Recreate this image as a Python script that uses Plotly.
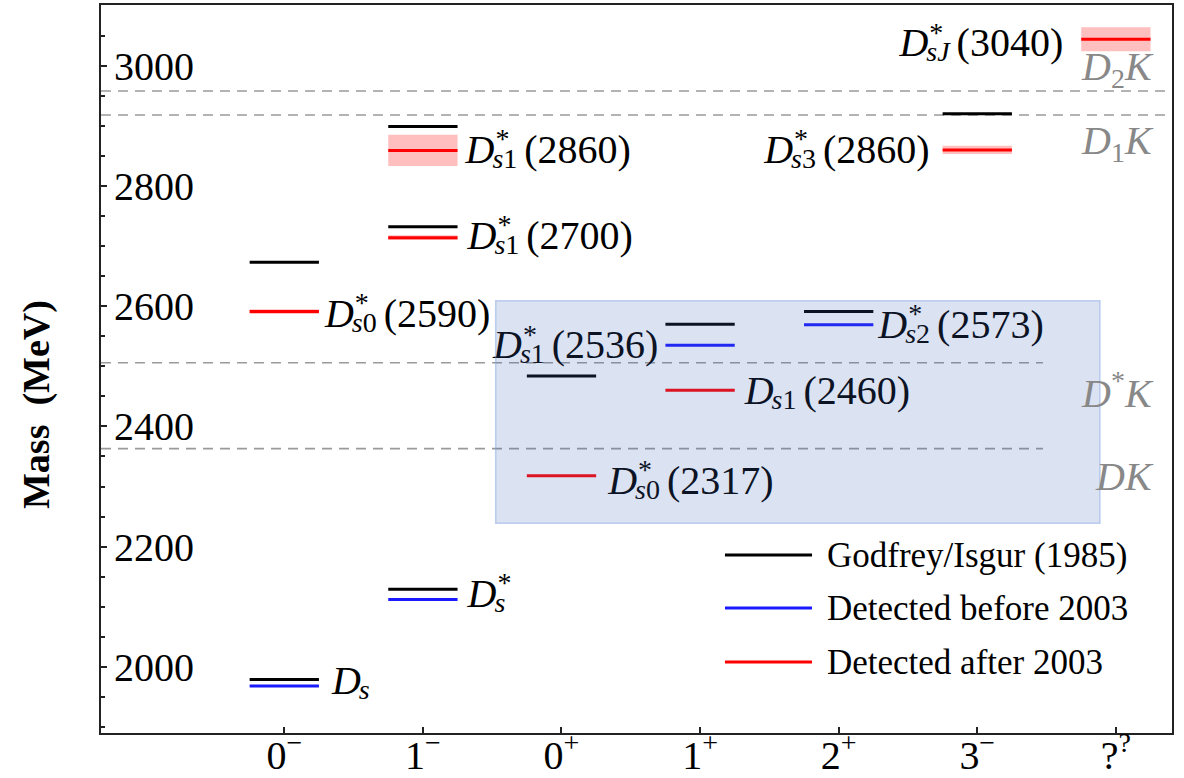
import plotly.graph_objects as go

# ---------------------------------------------------------------- data
CATEGORIES = ["0<sup>−</sup>", "1<sup>−</sup>", "0<sup>+</sup>", "1<sup>+</sup>",
              "2<sup>+</sup>", "3<sup>−</sup>", "?<sup>?</sup>"]

SERIES_NAMES = ["Godfrey/Isgur (1985)", "Detected before 2003", "Detected after 2003"]
SERIES_COLORS = ["#000000", "#1a1aff", "#ff0000"]

# Godfrey-Isgur quark-model predictions (category index, mass in MeV)
GI_CAT = [0, 0, 1, 1, 1, 2, 3, 4, 5]
GI_MASS = [1979, 2673, 2129, 2732, 2899, 2484, 2570, 2591, 2920]

# states observed before 2003
BEFORE_CAT = [0, 1, 3, 4]
BEFORE_MASS = [1968, 2112, 2535, 2569]

# states observed after 2003, with mass uncertainty
AFTER_CAT = [0, 1, 1, 2, 3, 5, 6]
AFTER_MASS = [2591, 2714, 2859, 2318, 2460, 2860, 3044]
AFTER_ERR = [4, 4, 26, 0, 0, 7, 20]

# two-meson thresholds
THRESH_NAMES = ["<i>D</i><sub>2</sub><i>K</i>", "<i>D</i><sub>1</sub><i>K</i>",
                "<i>D</i><sup>*</sup><i>K</i>", "<i>DK</i>"]
THRESH_MASS = [2958, 2918, 2506, 2363]
THRESH_FULL = [True, True, False, False]
THRESH_SHIFT = [22, -28, -28, -28]

# state names
LABEL_CAT = [0, 1, 0, 1, 1, 2, 3, 3, 4, 5, 6]
LABEL_MASS = [1968, 2112, 2591, 2714, 2859, 2318, 2535, 2460, 2569, 2860, 3044]
LABEL_STAR = [False, True, True, True, True, True, True, False, True, True, True]
LABEL_SUB = ["s", "s", "s0", "s1", "s1", "s0", "s1", "s1", "s2", "s3", "sJ"]
LABEL_TAIL = ["", "", "(2590)", "(2700)", "(2860)", "(2317)", "(2536)", "(2460)",
              "(2573)", "(2860)", "(3040)"]
LABEL_SIDE = ["R", "R", "R", "R", "R", "R", "L", "R", "R", "L", "L"]
LABEL_GAP = [13, 10, 6, 10, 8, 12, 7, 10, 5, 13, 18]
LABEL_DY = [-5, -6, 2, -2, -1, 5, 0, 0, 0, 0, 4]

HIGHLIGHT_X = (1.525, 5.885)
HIGHLIGHT_Y = (2239, 2609)

# ---------------------------------------------------------------- geometry
W, H = 1184, 778
M_L, M_R, M_T, M_B = 101, 12, 5, 45
X_RANGE = (-1.3225, 6.405)
Y_RANGE = (1890, 3101)
PLOT_W = W - M_L - M_R
PLOT_H = H - M_T - M_B
PX_X = PLOT_W / (X_RANGE[1] - X_RANGE[0])   # pixels per category unit
PX_Y = PLOT_H / (Y_RANGE[1] - Y_RANGE[0])   # pixels per MeV
HALF = 0.25                                  # half-width of a level bar
THRESH_SHORT_END = 5.474

FONT = "Liberation Serif"
FS_MAIN = 40
FS_SMALL = 28

fig = go.Figure()

# threshold dashed lines
for m, full in zip(THRESH_MASS, THRESH_FULL):
    x_end = X_RANGE[1] if full else THRESH_SHORT_END
    fig.add_trace(go.Scatter(
        x=[X_RANGE[0], x_end], y=[m, m], mode="lines",
        line=dict(color="#9a9a9a", width=1.6, dash="10px,7px"),
        hoverinfo="skip", showlegend=False))

# uncertainty bands of the recent states
for c, m, e in zip(AFTER_CAT, AFTER_MASS, AFTER_ERR):
    if e <= 0:
        continue
    fig.add_trace(go.Scatter(
        x=[c - HALF, c + HALF, c + HALF, c - HALF, c - HALF],
        y=[m - e, m - e, m + e, m + e, m - e],
        mode="lines", fill="toself", fillcolor="rgba(255,0,0,0.25)",
        line=dict(width=0), hoverinfo="skip", showlegend=False))


def level_trace(cats, masses, color, name):
    xs, ys = [], []
    for c, m in zip(cats, masses):
        xs += [c - HALF, c + HALF, None]
        ys += [m, m, None]
    return go.Scatter(x=xs, y=ys, mode="lines", name=name,
                      line=dict(color=color, width=3),
                      hoverinfo="skip", showlegend=False)


fig.add_trace(level_trace(GI_CAT, GI_MASS, SERIES_COLORS[0], SERIES_NAMES[0]))
fig.add_trace(level_trace(BEFORE_CAT, BEFORE_MASS, SERIES_COLORS[1], SERIES_NAMES[1]))
fig.add_trace(level_trace(AFTER_CAT, AFTER_MASS, SERIES_COLORS[2], SERIES_NAMES[2]))


# ---------------------------------------------------------------- state names
def text_width(s, fs):
    w = 0.0
    for ch in s:
        if ch.isdigit():
            w += 0.5
        elif ch in "()":
            w += 0.333
        elif ch == "s":
            w += 0.389
        elif ch == "J":
            w += 0.444
        else:
            w += 0.5
    return w * fs


def sub_html(s):
    out = ""
    for ch in s:
        out += ch if ch.isdigit() else "<i>%s</i>" % ch
    return out


W_D = 0.722 * FS_MAIN
pieces = []   # (x_data, y_data, html, size)
for c, m, star, sub, tail, side, gap, dy in zip(
        LABEL_CAT, LABEL_MASS, LABEL_STAR, LABEL_SUB, LABEL_TAIL,
        LABEL_SIDE, LABEL_GAP, LABEL_DY):
    w_sub = text_width(sub, FS_SMALL)
    w_star = 0.5 * FS_SMALL if star else 0
    x_sub = W_D - 2
    x_tail = x_sub + w_sub + 7
    total = (x_tail + text_width(tail, FS_MAIN)) if tail else x_sub + max(w_sub, w_star + 3)
    line_px_x = (c - X_RANGE[0]) * PX_X
    if side == "R":
        x0 = line_px_x + HALF * PX_X + gap
    else:
        x0 = line_px_x - HALF * PX_X - gap - total
    yc = (Y_RANGE[1] - m) * PX_Y + dy          # pixel row of the letter centre

    def to_data(px, py):
        return X_RANGE[0] + px / PX_X, Y_RANGE[1] - py / PX_Y

    pieces.append(to_data(x0, yc + 3.2) + ("<i>D</i>", FS_MAIN))
    if star:
        pieces.append(to_data(x0 + W_D + 1, yc - 8.5) + ("*", FS_SMALL))
    pieces.append(to_data(x0 + x_sub, yc + 11.2) + (sub_html(sub), FS_SMALL))
    if tail:
        pieces.append(to_data(x0 + x_tail, yc + 3.2) + (tail, FS_MAIN))

fig.add_trace(go.Scatter(
    x=[p[0] for p in pieces], y=[p[1] for p in pieces],
    text=[p[2] for p in pieces], mode="text", textposition="middle right",
    textfont=dict(family=FONT, size=[p[3] for p in pieces], color="#000000"),
    hoverinfo="skip", showlegend=False))

# ---------------------------------------------------------------- shapes / annotations
shapes = [dict(type="rect", xref="x", yref="y", layer="above",
               x0=HIGHLIGHT_X[0], x1=HIGHLIGHT_X[1],
               y0=HIGHLIGHT_Y[0], y1=HIGHLIGHT_Y[1],
               fillcolor="rgba(66,103,186,0.19)",
               line=dict(color="rgba(120,160,225,0.45)", width=1.5))]

annotations = []
for name, m, shift in zip(THRESH_NAMES, THRESH_MASS, THRESH_SHIFT):
    annotations.append(dict(
        text=name, xref="paper", yref="y", x=0.985, y=m, yshift=shift,
        xanchor="right", yanchor="middle", showarrow=False,
        font=dict(family=FONT, size=FS_MAIN, color="#888888")))

# legend drawn by hand so that the sample lines are long
LEG_Y = [0.2445, 0.1717, 0.0975]
for name, color, ly in zip(SERIES_NAMES, SERIES_COLORS, LEG_Y):
    shapes.append(dict(type="line", xref="paper", yref="paper",
                       x0=0.5826, x1=0.6639, y0=ly, y1=ly,
                       line=dict(color=color, width=3)))
    annotations.append(dict(
        text=name, xref="paper", yref="paper", x=0.676, y=ly,
        xanchor="left", yanchor="middle", showarrow=False,
        font=dict(family=FONT, size=35, color="#000000")))

annotations.append(dict(
    text="<b>Mass  (MeV)</b>", xref="paper", yref="paper",
    x=(36 - M_L) / PLOT_W, y=(H - M_B - 405) / PLOT_H,
    xanchor="center", yanchor="middle", textangle=-90, showarrow=False,
    font=dict(family=FONT, size=38, color="#000000")))

fig.update_layout(
    width=W, height=H, autosize=False,
    margin=dict(l=M_L, r=M_R, t=M_T, b=M_B, pad=0, autoexpand=False),
    paper_bgcolor="white", plot_bgcolor="white",
    shapes=shapes, annotations=annotations, showlegend=False,
    font=dict(family=FONT, color="#000000"),
)

fig.update_xaxes(
    range=list(X_RANGE), tickmode="array", tickvals=list(range(len(CATEGORIES))),
    ticktext=CATEGORIES, ticks="inside", ticklen=6, tickwidth=1.5, tickcolor="#222",
    ticklabelstandoff=-14,
    showline=True, mirror=True, linecolor="#222", linewidth=2,
    showgrid=False, zeroline=False, automargin=False,
    tickfont=dict(family=FONT, size=FS_MAIN, color="#000000"))

fig.update_yaxes(
    range=list(Y_RANGE), tickmode="array", tickvals=[2000, 2200, 2400, 2600, 2800, 3000],
    ticks="inside", ticklen=6, tickwidth=1.5, tickcolor="#222",
    ticklabelposition="inside", ticklabelstandoff=12,
    minor=dict(dtick=50, tick0=2000, ticks="inside", ticklen=4, tickcolor="#222",
               showgrid=False),
    showline=True, mirror=True, linecolor="#222", linewidth=2,
    showgrid=False, zeroline=False, automargin=False,
    tickfont=dict(family=FONT, size=FS_MAIN, color="#000000"))

fig.write_html("out.html")
